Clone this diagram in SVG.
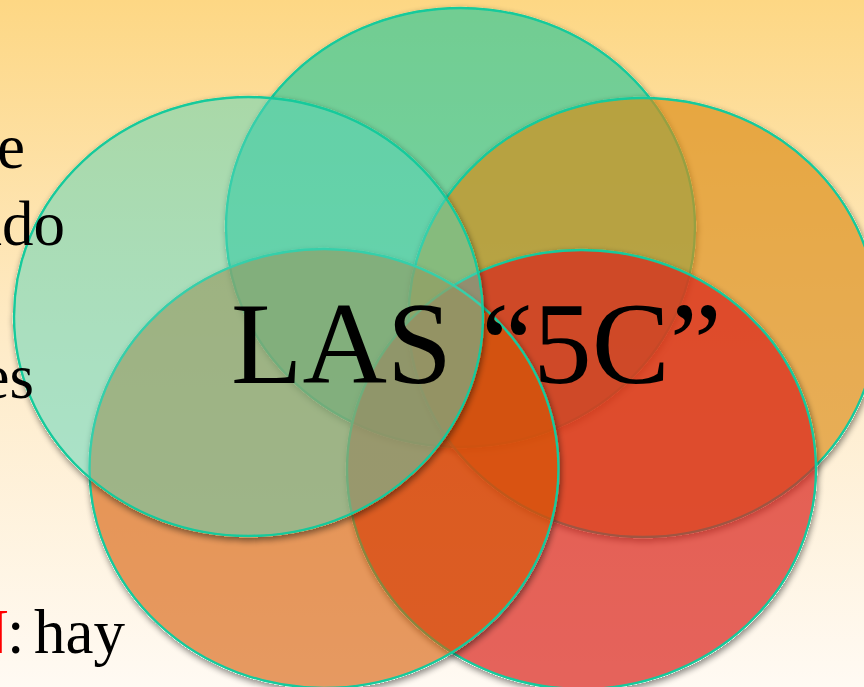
<svg xmlns="http://www.w3.org/2000/svg" width="864" height="687" viewBox="0 0 864 687">
  <defs>
    <linearGradient id="bg" x1="0" y1="0" x2="0" y2="1">
      <stop offset="0" stop-color="#FDD784"/>
      <stop offset="0.5" stop-color="#FEEBC8"/>
      <stop offset="1" stop-color="#FFFAF3"/>
    </linearGradient>
    <filter id="sh" x="-8%" y="-8%" width="116%" height="118%">
      <feComponentTransfer in="SourceAlpha" result="m"><feFuncA type="linear" slope="20"/></feComponentTransfer>
      <feGaussianBlur in="m" stdDeviation="3" result="b"/>
      <feOffset in="b" dx="1" dy="3" result="o"/>
      <feComposite in="o" in2="m" operator="out" result="s"/>
      <feComponentTransfer in="s" result="s2"><feFuncA type="linear" slope="0.45"/></feComponentTransfer>
      <feMerge><feMergeNode in="s2"/><feMergeNode in="SourceGraphic"/></feMerge>
    </filter>
    <style>
      .c { stroke: #14CA9C; stroke-width: 2.4; filter: url(#sh); }
      .txt { font-family: "Liberation Serif", "Times New Roman", serif; fill: #000; }
    </style>
  </defs>
  <rect width="864" height="687" fill="url(#bg)"/>
  <g id="circle-top"><ellipse class="c" cx="460.5" cy="227.5" rx="234.5" ry="219.5" fill="#44C995" fill-opacity="0.75"/></g>
  <g id="circle-right"><ellipse class="c" cx="643" cy="317.5" rx="234.5" ry="219.5" fill="#DC8A12" fill-opacity="0.65"/></g>
  <g id="circle-bottom-right"><ellipse class="c" cx="581.5" cy="469.5" rx="234.5" ry="219.5" fill="#DA2220" fill-opacity="0.7"/></g>
  <g id="circle-bottom-left"><ellipse class="c" cx="324" cy="468.5" rx="234.5" ry="219.5" fill="#D55907" fill-opacity="0.6"/></g>
  <g id="circle-left"><ellipse class="c" cx="248.5" cy="316.5" rx="234.5" ry="219.5" fill="#56D4B7" fill-opacity="0.5"/></g>
  <g id="connectors"/>
  <g id="side-text" class="txt" font-size="63">
    <text x="25" y="168" text-anchor="end">e</text>
    <text x="65" y="245" text-anchor="end">ado</text>
    <text x="34" y="398" text-anchor="end">es</text>
    <text y="653"><tspan x="-37" fill="#FF0000">N</tspan><tspan x="7">:</tspan><tspan x="34">hay</tspan></text>
  </g>
  <g id="title"><text class="txt" x="231" y="383" font-size="117">LAS “5C”</text></g>
</svg>
